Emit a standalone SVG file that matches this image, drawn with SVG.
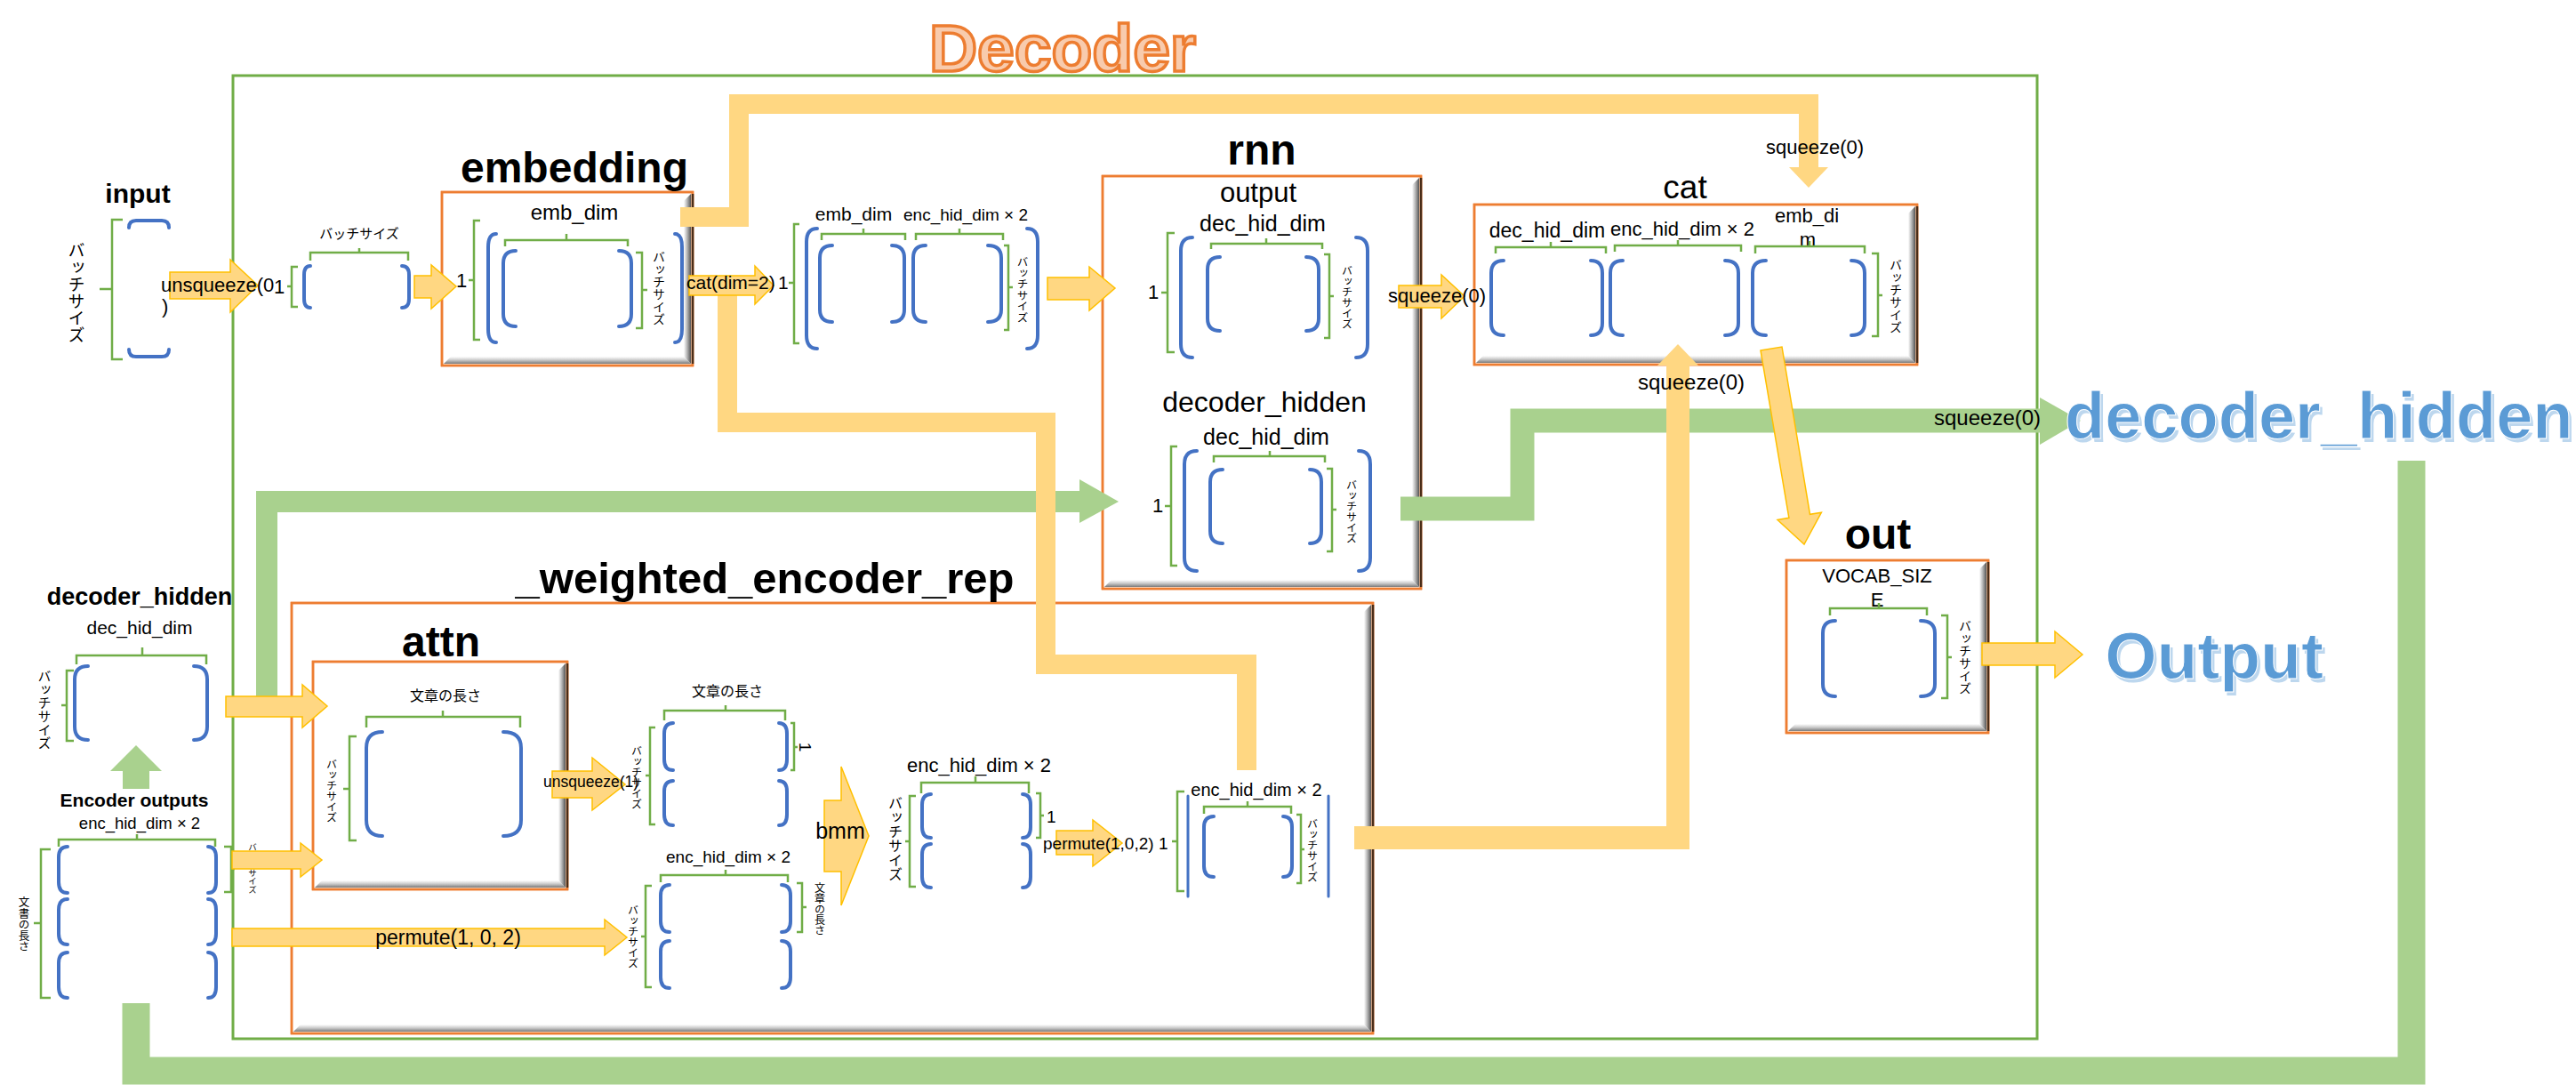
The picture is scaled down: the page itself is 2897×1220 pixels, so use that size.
<svg xmlns="http://www.w3.org/2000/svg" width="2897" height="1220" viewBox="0 0 2897 1220">
<style>
.t{font-family:"Liberation Sans",Arial,sans-serif;fill:#000}
.j{font-family:"Noto Sans CJK JP","Noto Sans CJK SC",sans-serif;fill:#000}
.v{writing-mode:vertical-rl}
.b{font-weight:bold}
.m{text-anchor:middle}
.gb{fill:none;stroke:#70AD47;stroke-width:2.5}
.bb{fill:none;stroke:#4472C4;stroke-width:4;stroke-linecap:round}
.box{fill:#fff;stroke:#ED7D31;stroke-width:2.5}
.boxe{fill:none;stroke:#ED7D31;stroke-width:2.5}
.rd{stroke:#4a2d18;stroke-width:2.5}
.yl{fill:none;stroke:#FFD782;stroke-linejoin:miter;stroke-linecap:butt}
.gl{fill:none;stroke:#A9D18E;stroke-linejoin:miter;stroke-linecap:butt}
.ya{fill:#FFD782;stroke:#FFC000;stroke-width:1.5}
.yh{fill:#FFD782}
.ga{fill:#A9D18E}
</style>
<defs>
<linearGradient id="bevB" x1="0" y1="0" x2="0" y2="1"><stop offset="0" stop-color="#ffffff"/><stop offset="0.5" stop-color="#c8c8c8"/><stop offset="1" stop-color="#7a7a7a"/></linearGradient>
<linearGradient id="bevR" x1="0" y1="0" x2="1" y2="0"><stop offset="0" stop-color="#ffffff"/><stop offset="0.5" stop-color="#b0b0b0"/><stop offset="1" stop-color="#555555"/></linearGradient>
</defs>
<rect width="2897" height="1220" fill="#fff"/>

<g id="decoder-frame">
<rect x="262" y="85" width="2029" height="1083" fill="none" stroke="#70AD47" stroke-width="3"/>
<text x="1195" y="80" class="t b m" font-size="75" fill="#F8CBAD" stroke="#ED7D31" stroke-width="3.5" style="fill:#F8CBAD">Decoder</text>
</g>

<g id="weighted-encoder-rep-box">
<rect x="328" y="678" width="1216" height="484" class="box"/>
<polygon points="330,1160 338,1152 1534,1152 1542,1160" fill="url(#bevB)"/>
<polygon points="1542,680 1534,688 1534,1152 1542,1160" fill="url(#bevR)"/>
<rect x="328" y="678" width="1216" height="484" class="boxe"/>
<line x1="1544" y1="680" x2="1544" y2="1160" class="rd"/>
<text x="860" y="667" class="t b m" font-size="49">_weighted_encoder_rep</text>
</g>

<g id="attn">
<rect x="352" y="744" width="286" height="256" class="box"/>
<polygon points="354,998 362,990 628,990 636,998" fill="url(#bevB)"/>
<polygon points="636,746 628,754 628,990 636,998" fill="url(#bevR)"/>
<rect x="352" y="744" width="286" height="256" class="boxe"/>
<line x1="638" y1="746" x2="638" y2="998" class="rd"/>
<text x="496" y="738" class="t b m" font-size="48">attn</text>
<text x="501" y="788" class="j m" font-size="16">文章の長さ</text>
<path class="gb" d="M412,818 L412,806 L585,806 L585,818 M498,806 L498,799"/>
<path class="bb" d="M430,823 Q412,823 412,841 L412,922 Q412,940 430,940 M566,823 Q586,823 586,841 L586,922 Q586,940 566,940"/>
<path class="gb" d="M401,828 L393,828 L393,945 L401,945 M393,887 L386,887"/>
<text x="373" y="853" class="j v" font-size="12">バッチサイズ</text>
</g>

<g id="input">
<text x="155" y="228" class="t b m" font-size="30">input</text>
<path class="gb" d="M138,247 L126,247 L126,404 L138,404 M126,325 L112,325"/>
<path class="bb" d="M145,256 Q145,248 153,248 L182,248 Q190,248 190,256 M145,393 Q145,401 153,401 L182,401 Q190,401 190,393"/>
<text x="86" y="272" class="j v" font-size="19">バッチサイズ</text>
</g>

<g id="unsqueezed-input">
<path class="gb" d="M335,300 L328,300 L328,345 L335,345 M328,322 L323,322"/>
<path class="bb" d="M349,299 Q342,299 342,309 L342,336 Q342,346 349,346 M452,299 Q460,299 460,309 L460,336 Q460,346 452,346"/>
<path class="gb" d="M349,293 L349,284 L459,284 L459,293 M404,284 L404,279"/>
<text x="404" y="268" class="j m" font-size="15">バッチサイズ</text>
</g>

<g id="embedding">
<rect x="497" y="216" width="282" height="195" class="box"/>
<polygon points="499,409 507,401 769,401 777,409" fill="url(#bevB)"/>
<polygon points="777,218 769,226 769,401 777,409" fill="url(#bevR)"/>
<rect x="497" y="216" width="282" height="195" class="boxe"/>
<line x1="779" y1="218" x2="779" y2="409" class="rd"/>
<text x="646" y="205" class="t b m" font-size="48">embedding</text>
<text x="646" y="247" class="t m" font-size="24">emb_dim</text>
<text x="513" y="323" class="t" font-size="22">1</text>
<path class="gb" d="M540,248 L533,248 L533,382 L540,382 M533,315 L527,315"/>
<path class="bb" d="M558,263 Q549,263 549,278 L549,370 Q549,385 558,385 M759,263 Q767,263 767,278 L767,370 Q767,385 759,385"/>
<path class="gb" d="M568,277 L568,270 L706,270 L706,277 M637,270 L637,263"/>
<path class="bb" d="M580,282 Q566,282 566,296 L566,353 Q566,367 580,367 M696,282 Q710,282 710,296 L710,353 Q710,367 696,367"/>
<path class="gb" d="M715,284 L722,284 L722,369 L715,369 M722,326 L728,326"/>
<text x="741" y="282" class="j v" font-size="14">バッチサイズ</text>
</g>

<g id="concat-vector">
<path class="gb" d="M899,252 L893,252 L893,386 L899,386 M893,318 L887,318"/>
<path class="bb" d="M919,257 Q907,257 907,272 L907,377 Q907,392 919,392 M1155,257 Q1167,257 1167,272 L1167,377 Q1167,392 1155,392"/>
<text x="960" y="248" class="t m" font-size="21">emb_dim</text>
<text x="1086" y="248" class="t m" font-size="19">enc_hid_dim × 2</text>
<path class="gb" d="M924,270 L924,263 L1018,263 L1018,270 M971,263 L971,257 M1030,270 L1030,263 L1128,263 L1128,270 M1079,263 L1079,257"/>
<path class="bb" d="M936,276 Q922,276 922,290 L922,348 Q922,362 936,362 M1003,276 Q1017,276 1017,290 L1017,348 Q1017,362 1003,362 M1041,276 Q1027,276 1027,290 L1027,348 Q1027,362 1041,362 M1111,276 Q1126,276 1126,290 L1126,348 Q1126,362 1111,362"/>
<path class="gb" d="M1129,276 L1134,276 L1134,371 L1129,371 M1134,323 L1139,323"/>
<text x="1150" y="288" class="j v" font-size="12.5">バッチサイズ</text>
</g>

<g id="rnn">
<rect x="1240" y="198" width="358" height="464" class="box"/>
<polygon points="1242,660 1250,652 1588,652 1596,660" fill="url(#bevB)"/>
<polygon points="1596,200 1588,208 1588,652 1596,660" fill="url(#bevR)"/>
<rect x="1240" y="198" width="358" height="464" class="boxe"/>
<line x1="1598" y1="200" x2="1598" y2="660" class="rd"/>
<text x="1419" y="185" class="t b m" font-size="48">rnn</text>
<text x="1415" y="227" class="t m" font-size="31">output</text>
<text x="1420" y="260" class="t m" font-size="25">dec_hid_dim</text>
<text x="1291" y="336" class="t" font-size="22">1</text>
<path class="gb" d="M1321,262 L1313,262 L1313,396 L1321,396 M1313,329 L1306,329"/>
<path class="bb" d="M1341,267 Q1328,267 1328,282 L1328,387 Q1328,402 1341,402 M1525,267 Q1538,267 1538,282 L1538,387 Q1538,402 1525,402"/>
<path class="gb" d="M1362,280 L1362,274 L1487,274 L1487,280 M1424,274 L1424,268"/>
<path class="bb" d="M1372,289 Q1358,289 1358,303 L1358,358 Q1358,372 1372,372 M1469,289 Q1483,289 1483,303 L1483,358 Q1483,372 1469,372"/>
<path class="gb" d="M1489,286 L1495,286 L1495,380 L1489,380 M1495,333 L1500,333"/>
<text x="1515" y="298" class="j v" font-size="12">バッチサイズ</text>
<text x="1422" y="463" class="t m" font-size="32">decoder_hidden</text>
<text x="1424" y="500" class="t m" font-size="25">dec_hid_dim</text>
<text x="1296" y="576" class="t" font-size="22">1</text>
<path class="gb" d="M1324,502 L1317,502 L1317,636 L1324,636 M1317,569 L1310,569"/>
<path class="bb" d="M1346,507 Q1332,507 1332,522 L1332,627 Q1332,642 1346,642 M1528,507 Q1541,507 1541,522 L1541,627 Q1541,642 1528,642"/>
<path class="gb" d="M1365,520 L1365,513 L1490,513 L1490,520 M1428,513 L1428,507"/>
<path class="bb" d="M1375,528 Q1361,528 1361,542 L1361,597 Q1361,611 1375,611 M1473,528 Q1486,528 1486,542 L1486,597 Q1486,611 1473,611"/>
<path class="gb" d="M1492,527 L1498,527 L1498,620 L1492,620 M1498,573 L1503,573"/>
<text x="1520" y="539" class="j v" font-size="12">バッチサイズ</text>
</g>

<g id="cat">
<rect x="1658" y="230" width="498" height="180" class="box"/>
<polygon points="1660,408 1668,400 2146,400 2154,408" fill="url(#bevB)"/>
<polygon points="2154,232 2146,240 2146,400 2154,408" fill="url(#bevR)"/>
<rect x="1658" y="230" width="498" height="180" class="boxe"/>
<line x1="2156" y1="232" x2="2156" y2="408" class="rd"/>
<text x="1895" y="223" class="t m" font-size="37">cat</text>
<text x="1740" y="267" class="t m" font-size="23">dec_hid_dim</text>
<text x="1892" y="265" class="t m" font-size="22">enc_hid_dim × 2</text>
<text x="2032" y="250" class="t m" font-size="22">emb_di</text>
<text x="2033" y="277" class="t m" font-size="22">m</text>
<path class="gb" d="M1682,285 L1682,278 L1806,278 L1806,285 M1744,278 L1744,272 M1816,283 L1816,276 L1958,276 L1958,283 M1887,276 L1887,270 M1974,285 L1974,277 L2097,277 L2097,285 M2035,277 L2035,271"/>
<path class="bb" d="M1691,293 Q1677,293 1677,307 L1677,363 Q1677,377 1691,377 M1789,293 Q1802,293 1802,307 L1802,363 Q1802,377 1789,377 M1825,293 Q1811,293 1811,307 L1811,363 Q1811,377 1825,377 M1940,293 Q1955,293 1955,307 L1955,363 Q1955,377 1940,377 M1986,293 Q1971,293 1971,307 L1971,363 Q1971,377 1986,377 M2082,293 Q2097,293 2097,307 L2097,363 Q2097,377 2082,377"/>
<path class="gb" d="M2105,285 L2112,285 L2112,378 L2105,378 M2112,332 L2117,332"/>
<text x="2132" y="291" class="j v" font-size="14">バッチサイズ</text>
</g>

<g id="out">
<rect x="2009" y="630" width="227" height="194" class="box"/>
<polygon points="2011,822 2019,814 2226,814 2234,822" fill="url(#bevB)"/>
<polygon points="2234,632 2226,640 2226,814 2234,822" fill="url(#bevR)"/>
<rect x="2009" y="630" width="227" height="194" class="boxe"/>
<line x1="2236" y1="632" x2="2236" y2="822" class="rd"/>
<text x="2112" y="617" class="t b m" font-size="48">out</text>
<text x="2111" y="655" class="t m" font-size="22">VOCAB_SIZ</text>
<text x="2111" y="682" class="t m" font-size="22">E</text>
<path class="gb" d="M2058,692 L2058,684 L2167,684 L2167,692 M2113,684 L2113,678"/>
<path class="bb" d="M2064,698 Q2050,698 2050,712 L2050,769 Q2050,783 2064,783 M2160,698 Q2176,698 2176,712 L2176,769 Q2176,783 2160,783"/>
<path class="gb" d="M2183,692 L2190,692 L2190,785 L2183,785 M2190,739 L2195,739"/>
<text x="2210" y="697" class="j v" font-size="14">バッチサイズ</text>
</g>

<g id="decoder-hidden-in">
<text x="157" y="680" class="t b m" font-size="27">decoder_hidden</text>
<text x="157" y="713" class="t m" font-size="21">dec_hid_dim</text>
<path class="gb" d="M86,747 L86,737 L232,737 L232,747 M160,737 L160,728"/>
<path class="bb" d="M99,749 Q84,749 84,764 L84,817 Q84,832 99,832 M218,749 Q233,749 233,764 L233,817 Q233,832 218,832"/>
<path class="gb" d="M83,754 L75,754 L75,833 L83,833 M75,793 L69,793"/>
<text x="50" y="753" class="j v" font-size="15">バッチサイズ</text>
</g>

<g id="encoder-outputs">
<text x="151" y="907" class="t b m" font-size="21">Encoder outputs</text>
<text x="157" y="932" class="t m" font-size="18.5">enc_hid_dim × 2</text>
<path class="gb" d="M66,952 L66,944 L242,944 L242,952 M154,944 L154,938"/>
<path class="bb" d="M76,952 Q66,952 66,964 L66,992 Q66,1004 76,1004 M234,952 Q243,952 243,964 L243,992 Q243,1004 234,1004 M76,1011 Q66,1011 66,1023 L66,1050 Q66,1062 76,1062 M234,1011 Q243,1011 243,1023 L243,1050 Q243,1062 234,1062 M76,1071 Q66,1071 66,1083 L66,1110 Q66,1122 76,1122 M234,1071 Q243,1071 243,1083 L243,1110 Q243,1122 234,1122"/>
<path class="gb" d="M57,955 L46,955 L46,1122 L57,1122 M46,1038 L38,1038"/>
<text x="27" y="1008" class="j v" font-size="12.5">文書の長さ</text>
<path class="gb" d="M252,952 L260,952 L260,1003 L252,1003 M260,977 L264,977"/>
<text x="284" y="948" class="j v" font-size="9.5">バッチサイズ</text>
</g>

<g id="unsqueezed-attn">
<text x="818" y="783" class="j m" font-size="16">文章の長さ</text>
<path class="gb" d="M747,810 L747,799 L883,799 L883,810 M816,799 L816,793"/>
<path class="bb" d="M757,813 Q747,813 747,825 L747,854 Q747,866 757,866 M876,813 Q885,813 885,825 L885,854 Q885,866 876,866 M757,878 Q747,878 747,890 L747,916 Q747,928 757,928 M876,878 Q885,878 885,890 L885,916 Q885,928 876,928"/>
<path class="gb" d="M889,813 L893,813 L893,866 L889,866 M893,840 L897,840"/>
<text x="0" y="7" transform="translate(906,840) rotate(90)" class="t m" font-size="19">1</text>
<path class="gb" d="M737,818 L731,818 L731,927 L737,927 M731,872 L726,872"/>
<text x="716" y="838" class="j v" font-size="12">バッチサイズ</text>
</g>

<g id="permuted-encoder-outputs">
<text x="819" y="970" class="t m" font-size="19">enc_hid_dim × 2</text>
<path class="gb" d="M743,992 L743,984 L886,984 L886,992 M816,984 L816,978"/>
<path class="bb" d="M753,995 Q743,995 743,1007 L743,1036 Q743,1048 753,1048 M879,995 Q889,995 889,1007 L889,1036 Q889,1048 879,1048 M753,1058 Q743,1058 743,1070 L743,1099 Q743,1111 753,1111 M879,1058 Q889,1058 889,1070 L889,1099 Q889,1111 879,1111"/>
<path class="gb" d="M896,993 L902,993 L902,1048 L896,1048 M902,1020 L907,1020"/>
<text x="922" y="992" class="j v" font-size="12">文章の長さ</text>
<path class="gb" d="M733,996 L726,996 L726,1110 L733,1110 M726,1053 L721,1053"/>
<text x="712" y="1017" class="j v" font-size="12">バッチサイズ</text>
</g>

<g id="bmm-output">
<text x="1101" y="868" class="t m" font-size="22">enc_hid_dim × 2</text>
<path class="gb" d="M1036,892 L1036,880 L1157,880 L1157,892 M1097,880 L1097,873"/>
<path class="bb" d="M1047,893 Q1037,893 1037,905 L1037,930 Q1037,942 1047,942 M1150,893 Q1159,893 1159,905 L1159,930 Q1159,942 1150,942 M1047,949 Q1037,949 1037,961 L1037,986 Q1037,998 1047,998 M1150,949 Q1159,949 1159,961 L1159,986 Q1159,998 1150,998"/>
<path class="gb" d="M1165,892 L1170,892 L1170,942 L1165,942 M1170,917 L1174,917"/>
<text x="1177" y="925" class="t" font-size="19">1</text>
<path class="gb" d="M1030,895 L1023,895 L1023,997 L1030,997 M1023,946 L1018,946"/>
<text x="1007" y="895" class="j v" font-size="16">バッチサイズ</text>
</g>

<g id="weighted-vector">
<path class="gb" d="M1332,890 L1324,890 L1324,1002 L1332,1002 M1324,946 L1318,946"/>
<path class="bb" d="M1336,895 L1336,1008 M1494,895 L1494,1008" style="stroke-width:3"/>
<text x="1413" y="895" class="t m" font-size="20">enc_hid_dim × 2</text>
<path class="gb" d="M1354,915 L1354,907 L1452,907 L1452,915 M1403,907 L1403,901"/>
<path class="bb" d="M1365,918 Q1354,918 1354,930 L1354,974 Q1354,986 1365,986 M1443,918 Q1453,918 1453,930 L1453,974 Q1453,986 1443,986"/>
<path class="gb" d="M1458,916 L1463,916 L1463,993 L1458,993 M1463,955 L1467,955"/>
<text x="1476" y="920" class="j v" font-size="12">バッチサイズ</text>
</g>

<g id="connectors">
<polyline class="gl" stroke-width="24" points="300,790 300,564 1214,564"/>
<polygon class="ga" points="1214,539 1258,564 1214,588"/>
<polyline class="gl" stroke-width="27" points="1575,572 1712,572 1712,473 2294,473"/>
<polygon class="ga" points="2294,447 2340,473 2294,500"/>
<polyline class="gl" stroke-width="31" points="153,1128 153,1204 2712,1204 2712,518"/>
<polygon class="ga" points="138,887 138,867 124,867 153,838 182,867 168,867 168,887"/>
<polyline class="yl" stroke-width="22" points="1402,866 1402,747 1176,747 1176,475 818,475 818,330"/>
<polyline class="yl" stroke-width="22" points="765,244 831,244 831,117 2034,117 2034,190"/>
<polygon class="yh" points="2012,188 2056,188 2034,211"/>
<polyline class="yl" stroke-width="26" points="1523,942 1887,942 1887,410"/>
<polygon class="yh" points="1864,411 1910,411 1887,387"/>
<polygon class="ya" points="1980,394 2004,390 2035.5,578.3 2048.4,576.2 2029,612 1999,584.5 2011.9,582.3"/>
<polygon class="ya" points="191,306 259,306 259,292 290,321 259,351 259,336 191,336"/>
<polygon class="ya" points="466,310 485,310 485,298 513,322 485,347 485,335 466,335"/>
<polygon class="ya" points="775,310 849,310 849,299 870,321 849,342 849,332 775,332"/>
<polygon class="ya" points="1178,312 1225,312 1225,300 1254,324 1225,349 1225,337 1178,337"/>
<polygon class="ya" points="1573,321 1621,321 1621,309 1647,333 1621,358 1621,346 1573,346"/>
<polygon class="ya" points="2229,723 2311,723 2311,710 2342,736 2311,762 2311,748 2229,748"/>
<polygon class="ya" points="254,783 340,783 340,770 368,794 340,818 340,806 254,806"/>
<polygon class="ya" points="261,957 338,957 338,948 362,967 338,986 338,977 261,977"/>
<polygon class="ya" points="261,1044 680,1044 680,1034 705,1054 680,1074 680,1064 261,1064"/>
<polygon class="ya" points="621,867 666,867 666,852 703,882 666,911 666,897 621,897"/>
<polygon class="ya" points="927,900 946,900 946,862 977,940 946,1018 946,980 927,980"/>
<polygon class="ya" points="1188,934 1229,934 1229,922 1262,948 1229,974 1229,961 1188,961"/>
</g>

<g id="connector-labels">
<text x="181" y="328" class="t" font-size="22">unsqueeze(0</text>
<text x="182" y="352" class="t" font-size="22">)</text>
<text x="308" y="330" class="t" font-size="22">1</text>
<text x="772" y="325" class="t" font-size="21">cat(dim=2)</text>
<text x="875" y="325" class="t" font-size="21">1</text>
<text x="1561" y="340" class="t" font-size="22">squeeze(0)</text>
<text x="1986" y="173" class="t" font-size="22">squeeze(0)</text>
<text x="1842" y="438" class="t" font-size="24">squeeze(0)</text>
<text x="2175" y="478" class="t" font-size="24">squeeze(0)</text>
<text x="611" y="885" class="t" font-size="17.5">unsqueeze(1)</text>
<text x="945" y="943" class="t m" font-size="25">bmm</text>
<text x="1173" y="955" class="t" font-size="19">permute(1,0,2)</text>
<text x="1303" y="955" class="t" font-size="19">1</text>
<text x="504" y="1062" class="t m" font-size="23">permute(1, 0, 2)</text>
</g>

<g id="outputs">
<text x="2325" y="497" class="t b" font-size="74" style="fill:#BDD7EE">decoder_hidden</text>
<text x="2322" y="493" class="t b" font-size="74" style="fill:#5B9BD5" stroke="#ffffff" stroke-width="1">decoder_hidden</text>
<text x="2493" y="767" class="t b m" font-size="75" style="fill:#BDD7EE">Output</text>
<text x="2490" y="763" class="t b m" font-size="75" style="fill:#5B9BD5" stroke="#ffffff" stroke-width="1">Output</text>
</g>
</svg>
